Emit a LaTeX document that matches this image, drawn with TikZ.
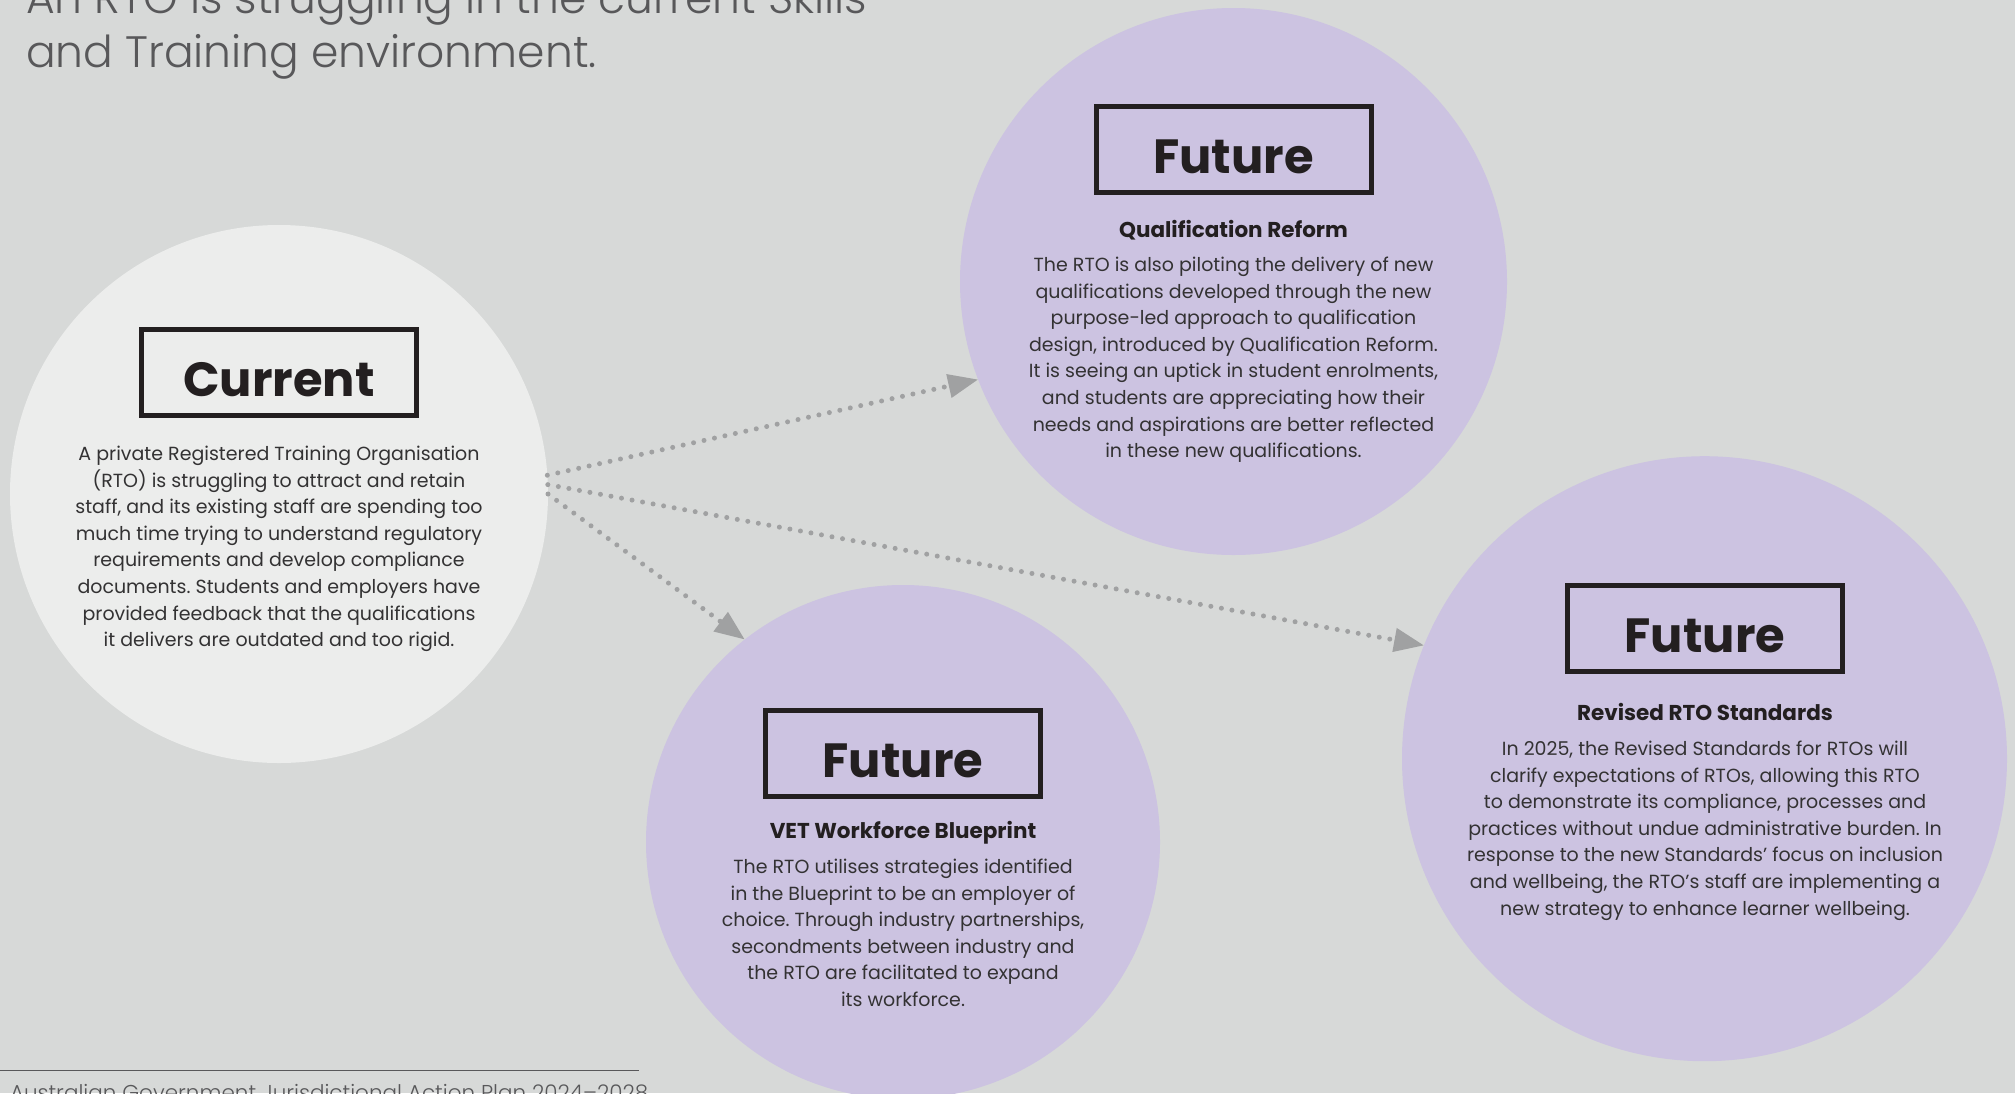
\documentclass[tikz,border=0pt]{standalone}
\usepackage{fontspec}
\setmainfont{Poppins}
\IfFontExistsTF{Poppins Light}
  {\newfontfamily\lightfont{Poppins Light}}
  {\newfontfamily\lightfont{Poppins}}
\usetikzlibrary{positioning, calc, arrows.meta}

\definecolor{pagebg}{HTML}{D7D9D8}
\definecolor{curfill}{HTML}{ECEDEC}
\definecolor{futfill}{HTML}{CCC3E1}
\definecolor{boxdark}{HTML}{231F20}
\definecolor{bodytext}{HTML}{333233}
\definecolor{flowgray}{HTML}{A0A1A2}
\definecolor{titlegray}{HTML}{58585A}

\frenchspacing

\begin{document}
\begin{tikzpicture}[x=1pt, y=-1pt,
     every node/.style = {inner sep=0pt, outer sep=0pt},
     stage/.style = {shape=circle, draw=none, minimum size=#1},
     stagebox/.style = {shape=rectangle, draw=boxdark, line width=5pt,
         minimum width=275pt, minimum height=86pt, text=boxdark,
         text height=48pt, text depth=0pt,
         font=\fontsize{48}{48}\selectfont\bfseries},
     heading/.style = {anchor=base, text=boxdark,
         font=\fontsize{21.5}{26}\selectfont\bfseries},
     blurb/.style = {anchor=north, align=center, text=bodytext,
         font=\fontsize{19}{26.6}\selectfont},
     flow/.style = {draw=flowgray, line width=5pt, line cap=round,
         dash pattern=on 0pt off 10.7pt,
         -{Triangle[length=30pt, width=23pt]}}]

    \useasboundingbox (0,0) rectangle (2015,1093);
    \fill[pagebg] (0,0) rectangle (2015,1093);
    \clip (0,0) rectangle (2015,1093);

    % title and footer
    \node [anchor=base west, align=left, text=titlegray,
           font=\fontsize{44}{54}\selectfont\lightfont] (title) at (26,67)
        {An RTO is struggling in the current Skills\\and Training environment.};
    \draw [titlegray, line width=1.5pt] (0,1070.5) -- (639,1070.5);
    \node [anchor=base west, text=titlegray,
           font=\fontsize{21.5}{24}\selectfont\lightfont] (foot) at (10,1100)
        {Australian Government Jurisdictional Action Plan 2024–2028};

    % circles
    \node [stage=538pt, fill=curfill] (cur)  at (279,494)    {};
    \node [stage=547pt, fill=futfill] (qual) at (1233.5,281.5) {};
    \node [stage=514pt, fill=futfill] (vet)  at (903,842)    {};
    \node [stage=605pt, fill=futfill] (rev)  at (1704.5,758.7) {};

    % current
    \node [stagebox] (curbox) at (279,372.5) {Current};
    \node [blurb] (curtext) at (279,446)
        {A private Registered Training Organisation\\
         (RTO) is struggling to attract and retain\\
         staff, and its existing staff are spending too\\
         much time trying to understand regulatory\\
         requirements and develop compliance\\
         documents. Students and employers have\\
         provided feedback that the qualifications\\
         it delivers are outdated and too rigid.};

    % qualification reform
    \node [stagebox] (qualbox) at (1233.5,149) {Future};
    \node [heading] (qualhead) at (1233.5,237) {Qualification Reform};
    \node [blurb] (qualtext) at (1233.5,257)
        {The RTO is also piloting the delivery of new\\
         qualifications developed through the new\\
         purpose-led approach to qualification\\
         design, introduced by Qualification Reform.\\
         It is seeing an uptick in student enrolments,\\
         and students are appreciating how their\\
         needs and aspirations are better reflected\\
         in these new qualifications.};

    % workforce blueprint
    \node [stagebox] (vetbox) at (903,753.5) {Future};
    \node [heading] (vethead) at (903,838) {VET Workforce Blueprint};
    \node [blurb] (vettext) at (903,859)
        {The RTO utilises strategies identified\\
         in the Blueprint to be an employer of\\
         choice. Through industry partnerships,\\
         secondments between industry and\\
         the RTO are facilitated to expand\\
         its workforce.};

    % revised standards
    \node [stagebox] (revbox) at (1705,628.5) {Future};
    \node [heading] (revhead) at (1705,720) {Revised RTO Standards};
    \node [blurb] (revtext) at (1705,741)
        {In 2025, the Revised Standards for RTOs will\\
         clarify expectations of RTOs, allowing this RTO\\
         to demonstrate its compliance, processes and\\
         practices without undue administrative burden. In\\
         response to the new Standards’ focus on inclusion\\
         and wellbeing, the RTO’s staff are implementing a\\
         new strategy to enhance learner wellbeing.};

    % arrows
    \draw [flow] (cur.4) -- (qual.201);
    \draw [flow] (cur.2) -- (rev.158);
    \draw [flow] (cur.0) -- (vet.128);
\end{tikzpicture}
\end{document}
